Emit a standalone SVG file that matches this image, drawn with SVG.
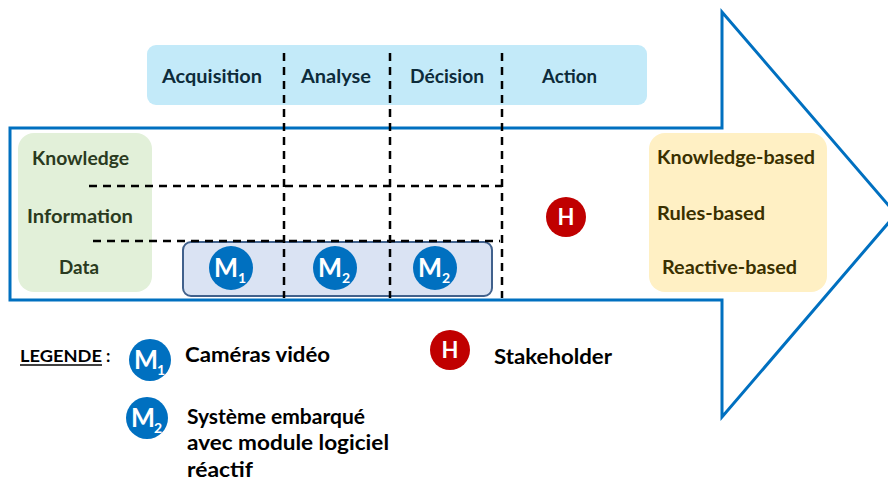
<svg xmlns="http://www.w3.org/2000/svg" width="888" height="487" viewBox="0 0 888 487">
<style>
text{font-family:Lato,"Open Sans","Liberation Sans",sans-serif;font-weight:700}
.ph{font-size:18px;fill:#0D2B3A}
.lv{font-size:18.5px;fill:#2A3A20}
.rb{font-size:18.5px;fill:#3A3000}
.lg{font-size:20.5px;fill:#000}
.dash{stroke:#000;stroke-width:2.5;stroke-dasharray:8 6;fill:none}
.mc{fill:#0070C0}
.hc{fill:#C00000}
.mt{fill:#fff;font-size:26px}
.ms{fill:#fff;font-size:14px}
</style>
<g id="arrow"><path d="M10,128 L722,128 L722,12 L896,214 L722,417 L722,300 L10,300 Z" fill="#fff" stroke="#0070C0" stroke-width="3"/></g>
<g id="phases">
<rect x="147" y="45" width="500" height="60" rx="9" fill="#C3EAF9"/>
<text class="ph" x="162" y="83" textLength="100" lengthAdjust="spacingAndGlyphs">Acquisition</text>
<text class="ph" x="301" y="83" textLength="70" lengthAdjust="spacingAndGlyphs">Analyse</text>
<text class="ph" x="410" y="83" textLength="74" lengthAdjust="spacingAndGlyphs">Décision</text>
<text class="ph" x="542" y="83" textLength="55" lengthAdjust="spacingAndGlyphs">Action</text>
</g>
<g id="levels">
<rect x="18" y="133" width="134" height="159" rx="16" fill="#E2F0D9"/>
<text class="lv" x="32" y="165" textLength="97" lengthAdjust="spacingAndGlyphs">Knowledge</text>
<text class="lv" x="27" y="223" textLength="106" lengthAdjust="spacingAndGlyphs">Information</text>
<text class="lv" x="59" y="274" textLength="40" lengthAdjust="spacingAndGlyphs">Data</text>
</g>
<g id="behaviours">
<rect x="649" y="133" width="178" height="159" rx="16" fill="#FFF0C4"/>
<text class="rb" x="657" y="164" textLength="158" lengthAdjust="spacingAndGlyphs">Knowledge-based</text>
<text class="rb" x="657" y="220" textLength="108" lengthAdjust="spacingAndGlyphs">Rules-based</text>
<text class="rb" x="662" y="274" textLength="135" lengthAdjust="spacingAndGlyphs">Reactive-based</text>
</g>
<g id="data-box"><rect x="183" y="242" width="309" height="54" rx="8" fill="#DAE3F3" stroke="#41618C" stroke-width="2"/></g>
<g id="connectors">
<line class="dash" x1="284" y1="53" x2="284" y2="298"/>
<line class="dash" x1="390" y1="53" x2="390" y2="298"/>
<line class="dash" x1="502" y1="53" x2="502" y2="298"/>
<line class="dash" x1="89" y1="186" x2="502" y2="186"/>
<line class="dash" x1="93" y1="241" x2="500" y2="241"/>
</g>
<g id="m1-a"><circle class="mc" cx="231" cy="268" r="22"/><text class="mt" x="214" y="277" textLength="24" lengthAdjust="spacingAndGlyphs">M</text><text class="ms" x="238" y="283">1</text></g>
<g id="m2-a"><circle class="mc" cx="335" cy="268" r="22"/><text class="mt" x="318" y="277" textLength="24" lengthAdjust="spacingAndGlyphs">M</text><text class="ms" x="342" y="283">2</text></g>
<g id="m2-b"><circle class="mc" cx="435" cy="268" r="22"/><text class="mt" x="418" y="277" textLength="24" lengthAdjust="spacingAndGlyphs">M</text><text class="ms" x="442" y="283">2</text></g>
<g id="h-node"><circle class="hc" cx="566" cy="217" r="20"/><text x="566" y="225" text-anchor="middle" style="fill:#fff;font-size:22px">H</text></g>
<g id="legend">
<text x="20" y="362" style="font-size:17px;fill:#000" textLength="82" lengthAdjust="spacingAndGlyphs">LEGENDE</text>
<line x1="20" y1="365" x2="102" y2="365" stroke="#000" stroke-width="1.3"/>
<text x="106" y="362" style="font-size:17px;fill:#000">:</text>
<circle class="mc" cx="150" cy="360" r="21"/><text class="mt" x="134" y="369" textLength="24" lengthAdjust="spacingAndGlyphs">M</text><text class="ms" x="157" y="375">1</text>
<text class="lg" x="185" y="362" textLength="145" lengthAdjust="spacingAndGlyphs">Caméras vidéo</text>
<circle class="hc" cx="450" cy="350" r="20"/><text x="450" y="358" text-anchor="middle" style="fill:#fff;font-size:22px">H</text>
<text class="lg" x="494" y="364" textLength="118" lengthAdjust="spacingAndGlyphs">Stakeholder</text>
<circle class="mc" cx="147" cy="418" r="21"/><text class="mt" x="131" y="427" textLength="24" lengthAdjust="spacingAndGlyphs">M</text><text class="ms" x="154" y="433">2</text>
<text class="lg" x="187" y="424" textLength="178" lengthAdjust="spacingAndGlyphs">Système embarqué</text>
<text class="lg" x="187" y="450" textLength="202" lengthAdjust="spacingAndGlyphs">avec module logiciel</text>
<text class="lg" x="187" y="477" textLength="66" lengthAdjust="spacingAndGlyphs">réactif</text>
</g>
</svg>
